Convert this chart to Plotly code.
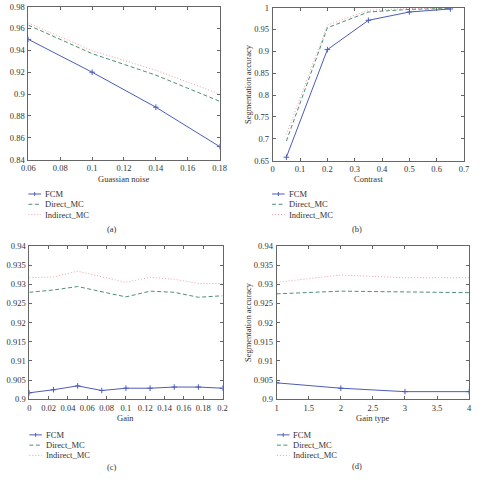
import plotly.graph_objects as go

# ---------------- data ----------------
a_x = [0.06, 0.10, 0.14, 0.18]
a_fcm = [0.950, 0.920, 0.888, 0.852]
a_direct = [0.963, 0.937, 0.9173, 0.8934]
a_indirect = [0.965, 0.9397, 0.9218, 0.900]

b_x = [0.05, 0.20, 0.35, 0.50, 0.65]
b_fcm = [0.658, 0.904, 0.971, 0.990, 0.997]
b_direct = [0.695, 0.954, 0.990, 0.996, 0.998]
b_indirect = [0.710, 0.960, 0.994, 0.998, 0.999]

c_x = [0, 0.025, 0.05, 0.075, 0.1, 0.125, 0.15, 0.175, 0.2]
c_fcm = [0.9017, 0.9025, 0.9035, 0.9023, 0.9029, 0.9029, 0.9032, 0.9032, 0.9029]
c_direct = [0.9279, 0.9285, 0.9294, 0.9281, 0.9267, 0.9282, 0.9279, 0.9266, 0.9270]
c_indirect = [0.9317, 0.9319, 0.9334, 0.9320, 0.9305, 0.9318, 0.9313, 0.9302, 0.9302]

d_x = [1, 2, 3, 4]
d_fcm = [0.9043, 0.9029, 0.9020, 0.9020]
d_direct = [0.9275, 0.9282, 0.9280, 0.9278]
d_indirect = [0.9305, 0.9324, 0.9317, 0.9317]

series_names = ["FCM", "Direct_MC", "Indirect_MC"]
captions = ["(a)", "(b)", "(c)", "(d)"]
x_titles = ["Guassian noise", "Contrast", "Gain", "Gain type"]
y_title = "Segmentation accuracy"

# ---------------- styling ----------------
W = H = 481
FONT = "Liberation Serif"
C_FCM = "#4b5cb8"
C_DIR = "#4f8f72"
C_IND = "#ec9ea6"
AXC = "#666666"
TXT = "#333333"

def px(x):
    return x / W

def py(y):
    return 1 - y / H

fig = go.Figure()

panels = [
    dict(x=a_x, f=a_fcm, d=a_direct, i=a_indirect, xa="x", ya="y",
         xd=[px(22), px(219)], yd=[py(158), py(1.6)],
         xr=[0.06, 0.18], yr=[0.84, 0.98], xdt=0.02, ydt=0.02),
    dict(x=b_x, f=b_fcm, d=b_direct, i=b_indirect, xa="x2", ya="y2",
         xd=[px(273.7), px(470.7)], yd=[py(159), py(2.7)],
         xr=[0, 0.7], yr=[0.65, 1.0], xdt=0.1, ydt=0.05),
    dict(x=c_x, f=c_fcm, d=c_direct, i=c_indirect, xa="x3", ya="y3",
         xd=[px(23), px(222)], yd=[py(402.7), py(246)],
         xr=[0, 0.2], yr=[0.9, 0.94], xdt=0.02, ydt=0.005),
    dict(x=d_x, f=d_fcm, d=d_direct, i=d_indirect, xa="x4", ya="y4",
         xd=[px(277.7), px(476)], yd=[py(402.7), py(246)],
         xr=[1, 4], yr=[0.9, 0.94], xdt=0.5, ydt=0.005),
]

for k, p in enumerate(panels):
    fig.add_trace(go.Scatter(x=p["x"], y=p["i"], mode="lines", xaxis=p["xa"], yaxis=p["ya"],
                             line=dict(color=C_IND, width=1, dash="1px,2px"), showlegend=False))
    fig.add_trace(go.Scatter(x=p["x"], y=p["d"], mode="lines", xaxis=p["xa"], yaxis=p["ya"],
                             line=dict(color=C_DIR, width=1, dash="4px,2.5px"), showlegend=False))
    fig.add_trace(go.Scatter(x=p["x"], y=p["f"], mode="lines+markers", xaxis=p["xa"], yaxis=p["ya"],
                             line=dict(color=C_FCM, width=1),
                             marker=dict(symbol="cross-thin", size=4,
                                         line=dict(color=C_FCM, width=1)),
                             showlegend=False))
    suffix = "" if k == 0 else str(k + 1)
    common = dict(showline=True, linecolor=AXC, linewidth=1, mirror="ticks",
                  ticks="inside", ticklen=3, tickcolor=AXC, showgrid=False, zeroline=False,
                  tickfont=dict(family=FONT, size=8.5, color=TXT))
    fig.update_layout(**{
        "xaxis" + suffix: dict(domain=p["xd"], range=p["xr"], dtick=p["xdt"], tick0=p["xr"][0],
                               anchor="y" + suffix, ticklabelstandoff=0, **common),
        "yaxis" + suffix: dict(domain=p["yd"], range=p["yr"], dtick=p["ydt"], tick0=p["yr"][0],
                               anchor="x" + suffix, ticklabelstandoff=1, **common),
    })

annotations = []
shapes = []

def text(x, y, s, size=8.5, anchor="center", angle=0):
    annotations.append(dict(x=px(x), y=py(y), xref="paper", yref="paper", text=s,
                            showarrow=False, xanchor=anchor, yanchor="middle", textangle=angle,
                            borderpad=0,
                            font=dict(family=FONT, size=size, color=TXT)))

# axis titles
text(120, 178, x_titles[0])
text(372, 178, x_titles[1])
text(122, 422, x_titles[2])
text(377, 422, x_titles[3])
text(249, 81, y_title, angle=-90)
text(249, 324, y_title, angle=-90)

# captions
text(108, 229, captions[0])
text(360, 229, captions[1])
text(108, 472, captions[2])
text(360, 471, captions[3])

# legends (custom keys)
legend_pos = [(22, 193), (273, 193), (23, 439), (278, 439)]
styles = [(C_FCM, "solid"), (C_DIR, "4px,2.5px"), (C_IND, "1px,2px")]
for (lx, ly) in legend_pos:
    for j, name in enumerate(series_names):
        yy = ly + j * 10.5
        col, dash = styles[j]
        shapes.append(dict(type="line", xref="paper", yref="paper",
                           x0=px(lx), x1=px(lx + 13), y0=py(yy), y1=py(yy),
                           line=dict(color=col, width=1, dash=dash)))
        if j == 0:
            shapes.append(dict(type="line", xref="paper", yref="paper",
                               x0=px(lx + 6.5), x1=px(lx + 6.5), y0=py(yy - 2), y1=py(yy + 2),
                               line=dict(color=col, width=1)))
        text(lx + 16, yy, name, anchor="left")

fig.update_layout(width=W, height=H, margin=dict(l=0, r=0, t=0, b=0),
                  paper_bgcolor="white", plot_bgcolor="white",
                  annotations=annotations, shapes=shapes, showlegend=False)

fig.write_html("out.html")
